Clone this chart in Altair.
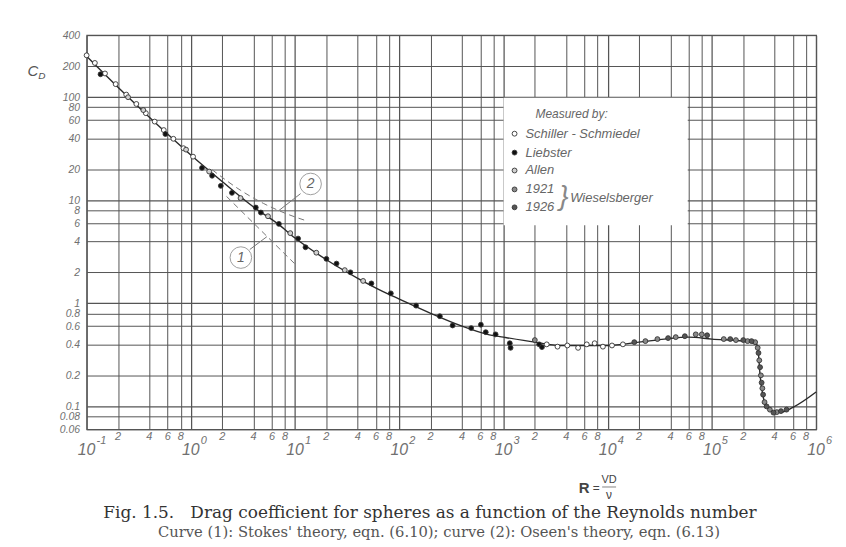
import altair as alt
import pandas as pd

# ---------------- data ----------------
curve_re = [0.1, 0.2, 0.4, 0.7, 1, 2, 4, 7, 10, 20, 40, 70, 100, 200, 400, 700, 1000,
            2000, 3500, 1e4, 2e4, 3.5e4, 6e4, 1e5, 2e5, 2.7e5, 2.8e5, 2.9e5, 3.1e5,
            3.4e5, 3.9e5, 4.6e5, 6e5, 1e6]
curve_cd = [250, 125, 64, 38, 27.5, 15.2, 8.6, 5.8, 4.3, 2.65, 1.75, 1.3, 1.1, 0.8, 0.6, 0.5, 0.47,
            0.42, 0.39, 0.39, 0.42, 0.45, 0.47, 0.45, 0.43, 0.40, 0.32, 0.2, 0.125,
            0.097, 0.089, 0.088, 0.098, 0.138]

stokes_re = [2.2, 10.5]
stokes_cd = [10.9, 2.29]
oseen_re = [1.6, 3, 5, 8, 13]
oseen_cd = [19.8, 12.5, 9.3, 7.5, 6.3]

schiller_re = [0.1, 0.12, 0.15, 0.19, 0.24, 0.3, 0.37, 0.45, 0.55, 0.68, 0.85, 1.05,
               2600, 3300, 4100, 5200, 6300, 7500, 9000, 11000, 14000]
schiller_cd = [255, 215, 170, 134, 106, 86, 70, 58, 48, 39.5, 32, 26.5,
               0.40, 0.38, 0.39, 0.37, 0.40, 0.41, 0.38, 0.39, 0.40]
liebster_re = [0.136, 0.57, 1.28, 1.6, 1.94, 2.48, 4.2, 4.7, 7.0, 10.7, 12.6, 20, 25, 34,
               54, 83, 145, 245, 325, 490, 607, 676, 840, 1150, 1170, 2200, 2340]
liebster_cd = [167, 43.9, 20.6, 17.3, 13.8, 11.8, 8.5, 7.6, 5.9, 4.25, 3.5, 2.7, 2.43, 2.0,
               1.56, 1.25, 0.95, 0.75, 0.61, 0.575, 0.62, 0.525, 0.50, 0.41, 0.37, 0.40, 0.376]
allen_re = [0.25, 0.35, 0.9, 1.5, 3, 5.5, 9, 16, 30, 45]
allen_cd = [100, 75, 31, 19, 10.5, 7, 4.8, 3.1, 2.1, 1.65]
w1921_re = [2000, 23000, 30000, 45000, 70000, 80000, 130000, 170000, 220000, 260000,
            275000, 285000, 295000, 305000, 320000, 360000, 420000]
w1921_cd = [0.44, 0.43, 0.45, 0.47, 0.50, 0.50, 0.45, 0.44, 0.43, 0.42,
            0.37, 0.28, 0.20, 0.15, 0.11, 0.093, 0.088]
w1926_re = [18000, 38000, 55000, 90000, 150000, 200000, 240000, 280000, 290000, 300000,
            310000, 335000, 390000, 460000, 520000]
w1926_cd = [0.42, 0.46, 0.48, 0.49, 0.45, 0.44, 0.43, 0.33, 0.24, 0.17,
            0.13, 0.10, 0.087, 0.09, 0.093]

series_names = ["Schiller - Schmiedel", "Liebster", "Allen", "1921", "1926"]
series_fill = ["#ffffff", "#111111", "#d0d0d0", "#8a8a8a", "#555555"]

x_grid = [k * 10.0 ** e for e in range(-1, 6) for k in (1, 2, 4, 6, 8)] + [1e6]
y_grid = [0.06, 0.08, 0.1, 0.2, 0.4, 0.6, 0.8, 1, 2, 4, 6, 8, 10, 20, 40, 60, 80, 100, 200, 400]
decade_vals = [0.1, 1, 10, 100, 1000, 1e4, 1e5, 1e6]
decade_exps = ["-1", "0", "1", "2", "3", "4", "5", "6"]
minor_vals = [k * 10.0 ** e for e in range(-1, 6) for k in (2, 4, 6, 8)]
minor_labels = [str(k) for e in range(-1, 6) for k in (2, 4, 6, 8)]

ann_re = [14.1, 3.02]
ann_cd = [14.4, 2.78]
ann_text = ["2", "1"]
lead_re = [11.3, 6.97, 3.68, 5.36]
lead_cd = [11.6, 7.93, 3.33, 4.43]
lead_id = ["2", "2", "1", "1"]

W, H = 733, 396
GRID = "#555555"
LBL = "#707070"
FONT = "Liberation Sans"
NB = "\u00a0"

# ---------------- scales ----------------
xs = alt.Scale(type="log", domain=[0.1, 1e6], nice=False)
ys = alt.Scale(type="log", domain=[0.06, 400], nice=False)

decade_test = "abs(log(datum.value)/LN10 - round(log(datum.value)/LN10)) < 0.001"
x_axis = alt.Axis(values=x_grid, grid=True, labels=False, ticks=False, domain=False, title=None,
                  gridColor=GRID,
                  gridWidth={"condition": {"test": decade_test, "value": 1.25}, "value": 1})
y_axis = alt.Axis(values=y_grid, grid=True, ticks=False, domain=False, title=None,
                  format="~g", labelFont=FONT, labelFontStyle="italic", labelFontSize=10.5,
                  labelColor=LBL, labelPadding=7, labelOverlap=False, labelBound=False,
                  labelFlush=False,
                  gridColor=GRID,
                  gridWidth={"condition": {"test": decade_test, "value": 1.25}, "value": 1})

curve_df = pd.DataFrame({"re": curve_re, "cd": curve_cd})
base_curve = alt.Chart(curve_df).mark_line(color="#2a2a2a", strokeWidth=1.4, interpolate="monotone").encode(
    x=alt.X("re:Q", scale=xs, axis=x_axis),
    y=alt.Y("cd:Q", scale=ys, axis=y_axis),
)

stokes = alt.Chart(pd.DataFrame({"re": stokes_re, "cd": stokes_cd})).mark_line(
    color="#777", strokeWidth=1, strokeDash=[6, 4]).encode(
    x=alt.X("re:Q", scale=xs), y=alt.Y("cd:Q", scale=ys))
oseen = alt.Chart(pd.DataFrame({"re": oseen_re, "cd": oseen_cd})).mark_line(
    color="#777", strokeWidth=1, strokeDash=[6, 4], interpolate="monotone").encode(
    x=alt.X("re:Q", scale=xs), y=alt.Y("cd:Q", scale=ys))

rows = []
for name, rr, cc in [("Schiller - Schmiedel", schiller_re, schiller_cd),
                     ("Liebster", liebster_re, liebster_cd),
                     ("Allen", allen_re, allen_cd),
                     ("1921", w1921_re, w1921_cd),
                     ("1926", w1926_re, w1926_cd)]:
    for r, c in zip(rr, cc):
        rows.append({"series": name, "re": r, "cd": c})
pts_df = pd.DataFrame(rows)
fill_scale = alt.Scale(domain=series_names, range=series_fill)
points = alt.Chart(pts_df).mark_point(shape="circle", size=24, filled=True, stroke="#333",
                                      strokeWidth=0.9, opacity=1).encode(
    x=alt.X("re:Q", scale=xs), y=alt.Y("cd:Q", scale=ys),
    fill=alt.Fill("series:N", scale=fill_scale, legend=None))

# annotations (1), (2)
ann_df = pd.DataFrame({"re": ann_re, "cd": ann_cd, "t": ann_text})
ann_circ = alt.Chart(ann_df).mark_point(shape="circle", size=470, filled=False, color="#777",
                                        strokeWidth=1).encode(
    x=alt.X("re:Q", scale=xs), y=alt.Y("cd:Q", scale=ys))
ann_txt = alt.Chart(ann_df).mark_text(font=FONT, fontStyle="italic", fontSize=14, color="#666").encode(
    x=alt.X("re:Q", scale=xs), y=alt.Y("cd:Q", scale=ys), text="t:N")
lead_df = pd.DataFrame({"re": lead_re, "cd": lead_cd, "id": lead_id})
leaders = alt.Chart(lead_df).mark_line(color="#777", strokeWidth=1).encode(
    x=alt.X("re:Q", scale=xs), y=alt.Y("cd:Q", scale=ys), detail="id:N")

# x tick labels
dec_df = pd.DataFrame({"v": decade_vals, "e": decade_exps})
dec_ten = alt.Chart(dec_df).mark_text(font=FONT, fontStyle="italic", fontSize=16, color=LBL,
                                      align="center", baseline="middle").encode(
    x=alt.X("v:Q", scale=xs), y=alt.value(H + 21), text=alt.value("10"))
dec_exp = alt.Chart(dec_df).mark_text(font=FONT, fontStyle="italic", fontSize=11, color=LBL,
                                      align="left", baseline="middle", dx=10).encode(
    x=alt.X("v:Q", scale=xs), y=alt.value(H + 12), text="e:N")
minor_df = pd.DataFrame({"v": minor_vals, "t": minor_labels})
minor_txt = alt.Chart(minor_df).mark_text(font=FONT, fontStyle="italic", fontSize=11, color=LBL,
                                          align="center", baseline="middle").encode(
    x=alt.X("v:Q", scale=xs), y=alt.value(H + 8), text="t:N")

# y title C_D
cd_c = alt.Chart(pd.DataFrame({"t": ["C"]})).mark_text(font=FONT, fontStyle="italic", fontSize=15,
                                                       color="#555", align="center", baseline="middle").encode(
    x=alt.value(-54), y=alt.value(36), text="t:N")
cd_d = alt.Chart(pd.DataFrame({"t": ["D"]})).mark_text(font=FONT, fontStyle="italic", fontSize=10,
                                                       color="#555", align="center", baseline="middle").encode(
    x=alt.value(-45), y=alt.value(41), text="t:N")

# legend box
leg_box = alt.Chart(pd.DataFrame({"a": [0]})).mark_rect(fill="white").encode(
    x=alt.value(419), x2=alt.value(604), y=alt.value(63), y2=alt.value(191))
leg_rows = pd.DataFrame({"series": series_names, "ly": [99, 118, 136, 155, 173]})
leg_sym = alt.Chart(leg_rows).mark_point(shape="circle", size=24, filled=True, stroke="#333",
                                         strokeWidth=0.9, opacity=1).encode(
    x=alt.value(430), y=alt.Y("ly:Q", scale=None),
    fill=alt.Fill("series:N", scale=fill_scale, legend=None))
leg_txt = alt.Chart(leg_rows).mark_text(font=FONT, fontStyle="italic", fontSize=13, color="#666",
                                        align="left", baseline="middle").encode(
    x=alt.value(441), y=alt.Y("ly:Q", scale=None), text="series:N")
leg_extra = pd.DataFrame({"t": ["Measured by:", "}", "Wieselsberger"],
                          "lx": [451, 475, 486], "ly": [79, 163, 164], "fs": [12, 28, 13],
                          "c": ["#666", "#888", "#666"]})
leg_head = alt.Chart(leg_extra).mark_text(font=FONT, fontStyle="italic",
                                          align="left", baseline="middle").encode(
    x=alt.X("lx:Q", scale=None), y=alt.Y("ly:Q", scale=None), text="t:N",
    size=alt.Size("fs:Q", scale=None, legend=None),
    color=alt.Color("c:N", scale=None, legend=None))

# x title R = VD / nu and caption
xr = alt.Chart(pd.DataFrame({"t": ["R"]})).mark_text(font=FONT, fontWeight="bold", fontSize=15, color="#444",
                                                     align="center", baseline="middle").encode(
    x=alt.value(500), y=alt.value(455), text="t:N")
xt = pd.DataFrame({"t": ["=", "VD", "\u03bd"], "lx": [512, 525, 525], "ly": [455, 447, 462],
                   "fs": [12, 11, 12]})
xtitle = alt.Chart(xt).mark_text(font=FONT, color="#444", align="center", baseline="middle").encode(
    x=alt.X("lx:Q", scale=None), y=alt.Y("ly:Q", scale=None), text="t:N",
    size=alt.Size("fs:Q", scale=None, legend=None))
frac = alt.Chart(pd.DataFrame({"a": [0]})).mark_rule(color="#666", strokeWidth=0.8).encode(
    x=alt.value(518), x2=alt.value(532), y=alt.value(454))

cap = pd.DataFrame({"t": ["Fig. 1.5." + NB * 3 + "Drag coefficient for spheres as a function of the Reynolds number",
                          "Curve (1): Stokes' theory, eqn. (6.10); curve (2): Oseen's theory, eqn. (6.13)"],
                    "lx": [345, 354], "ly": [480, 500], "fs": [17, 14.8], "c": ["#333", "#555"]})
caption = alt.Chart(cap).mark_text(font="DejaVu Serif", align="center", baseline="middle").encode(
    x=alt.X("lx:Q", scale=None), y=alt.Y("ly:Q", scale=None), text="t:N",
    size=alt.Size("fs:Q", scale=None, legend=None),
    color=alt.Color("c:N", scale=None, legend=None))

chart = alt.layer(
    base_curve, stokes, oseen, leaders, ann_circ, ann_txt, points,
    dec_ten, dec_exp, minor_txt, cd_c, cd_d,
    leg_box, leg_sym, leg_txt, leg_head, xr, xtitle, frac, caption
).properties(
    width=W, height=H, autosize="none",
    padding={"left": 79, "top": 26, "right": 22, "bottom": 115},
    background="white",
).configure_view(stroke=GRID, strokeWidth=1.2)

chart.save("out.html", embed_options={"renderer": "svg", "actions": False})
